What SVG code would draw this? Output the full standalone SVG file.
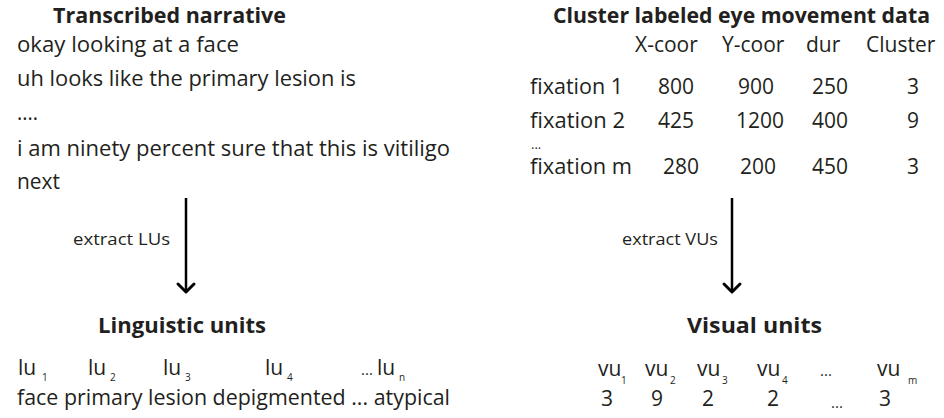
<svg xmlns="http://www.w3.org/2000/svg" width="944" height="418" viewBox="0 0 944 418">
<style>
text{font-family:"Open Sans","Noto Sans","Liberation Sans",sans-serif;fill:#231f20;}
.t{font-size:21px;font-weight:bold;}
.b{font-size:21px;}
.s{font-size:17px;}
.d{font-size:15px;}
.dd{font-size:13px;}
.sub{font-size:10px;}
.arr{stroke:#000;stroke-width:2.5;fill:none;}
.head{stroke:#000;stroke-width:3;fill:none;stroke-linecap:round;stroke-linejoin:round;}
</style>
<rect width="944" height="418" fill="#fff"/>
<g id="narrative">
<text class="t" x="53" y="23" textLength="233" lengthAdjust="spacingAndGlyphs">Transcribed narrative</text>
<text class="b" x="17" y="52" textLength="222" lengthAdjust="spacingAndGlyphs">okay looking at a face</text>
<text class="b" x="17" y="86" textLength="339" lengthAdjust="spacingAndGlyphs">uh looks like the primary lesion is</text>
<text class="b" x="17" y="120" textLength="21" lengthAdjust="spacingAndGlyphs">....</text>
<text class="b" x="17" y="156" textLength="433" lengthAdjust="spacingAndGlyphs">i am ninety percent sure that this is vitiligo</text>
<text class="b" x="17" y="189" textLength="43" lengthAdjust="spacingAndGlyphs">next</text>
</g>
<g id="eyedata">
<text class="t" x="553" y="23" textLength="377" lengthAdjust="spacingAndGlyphs">Cluster labeled eye movement data</text>
<text class="b" x="635" y="52">X-coor</text>
<text class="b" x="722" y="52">Y-coor</text>
<text class="b" x="806" y="52">dur</text>
<text class="b" x="866" y="52">Cluster</text>
<text class="b" x="530" y="94" textLength="93" lengthAdjust="spacingAndGlyphs">fixation 1</text>
<text class="b" x="658" y="94">800</text>
<text class="b" x="738" y="94">900</text>
<text class="b" x="812" y="94">250</text>
<text class="b" x="907" y="94">3</text>
<text class="b" x="530" y="128" textLength="95" lengthAdjust="spacingAndGlyphs">fixation 2</text>
<text class="b" x="658" y="128">425</text>
<text class="b" x="736" y="128">1200</text>
<text class="b" x="812" y="128">400</text>
<text class="b" x="907" y="128">9</text>
<text class="dd" x="531" y="149">...</text>
<text class="b" x="530" y="174" textLength="102" lengthAdjust="spacingAndGlyphs">fixation m</text>
<text class="b" x="663" y="174">280</text>
<text class="b" x="740" y="174">200</text>
<text class="b" x="812" y="174">450</text>
<text class="b" x="907" y="174">3</text>
</g>
<g id="linguistic">
<text class="t" x="98" y="333" textLength="168" lengthAdjust="spacingAndGlyphs">Linguistic units</text>
<text class="b" x="18" y="375">lu</text><text class="sub" x="42" y="381">1</text>
<text class="b" x="88" y="375">lu</text><text class="sub" x="110" y="381">2</text>
<text class="b" x="163" y="375">lu</text><text class="sub" x="185" y="381">3</text>
<text class="b" x="265" y="375">lu</text><text class="sub" x="287" y="381">4</text>
<text class="d" x="361" y="375">...</text>
<text class="b" x="377" y="375">lu</text><text class="sub" x="399" y="381">n</text>
<text class="b" x="17" y="405" textLength="433" lengthAdjust="spacingAndGlyphs">face primary lesion depigmented ... atypical</text>
</g>
<g id="visual">
<text class="t" x="687" y="333" textLength="135" lengthAdjust="spacingAndGlyphs">Visual units</text>
<text class="b" x="598" y="376">vu</text><text class="sub" x="621" y="384">1</text>
<text class="b" x="645" y="376">vu</text><text class="sub" x="670" y="384">2</text>
<text class="b" x="697" y="376">vu</text><text class="sub" x="722" y="384">3</text>
<text class="b" x="757" y="376">vu</text><text class="sub" x="782" y="384">4</text>
<text class="d" x="820" y="376">...</text>
<text class="b" x="877" y="376">vu</text><text class="sub" x="908" y="384">m</text>
<text class="b" x="601" y="406">3</text>
<text class="b" x="651" y="406">9</text>
<text class="b" x="702" y="406">2</text>
<text class="b" x="767" y="406">2</text>
<text class="d" x="831" y="408">...</text>
<text class="b" x="879" y="406">3</text>
</g>
<g id="connectors">
<line class="arr" x1="186" y1="198" x2="186" y2="292"/>
<polyline class="head" points="178,284 186,292 194,284"/>
<text class="s" x="73" y="245" textLength="97" lengthAdjust="spacingAndGlyphs">extract LUs</text>
<line class="arr" x1="732" y1="198" x2="732" y2="292"/>
<polyline class="head" points="724,284 732,292 740,284"/>
<text class="s" x="622" y="245" textLength="96" lengthAdjust="spacingAndGlyphs">extract VUs</text>
</g>
</svg>
